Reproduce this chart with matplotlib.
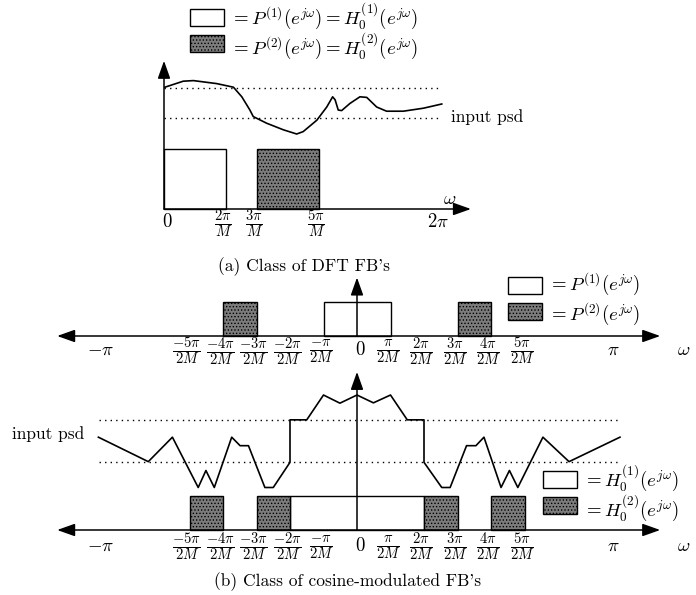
import matplotlib
matplotlib.use("Agg")
import matplotlib.pyplot as plt
from matplotlib.patches import Rectangle, FancyArrowPatch
from matplotlib.transforms import Affine2D

plt.rcParams['font.family'] = 'serif'
plt.rcParams['font.serif'] = ['cmr10', 'DejaVu Serif']
plt.rcParams['mathtext.fontset'] = 'cm'
plt.rcParams['hatch.linewidth'] = 0.6
plt.rcParams['axes.unicode_minus'] = False

# ---- data ----
# (a) DFT filter bank, frequency in units of pi/M
a_white = (0, 2)
a_gray = [(3, 5)]
a_ticks = [0, 2, 3, 5, 9]
a_labels = ['0', r'$\frac{2\pi}{M}$', r'$\frac{3\pi}{M}$', r'$\frac{5\pi}{M}$', r'$2\pi$']
a_psd_x = [0.03, 0.62, 0.95, 1.70, 2.24, 2.51, 2.77, 2.88, 3.31, 3.85, 4.28, 4.49, 4.93,
           5.25, 5.44, 5.52, 5.62, 5.73, 6.00, 6.32, 6.54, 6.86, 7.18, 7.72, 8.37, 8.96]
a_psd_y = [2.03, 2.13, 2.14, 2.09, 2.03, 1.87, 1.65, 1.54, 1.43, 1.32, 1.25, 1.29, 1.48,
           1.70, 1.87, 1.82, 1.65, 1.64, 1.76, 1.87, 1.86, 1.70, 1.63, 1.63, 1.68, 1.75]
a_levels = [2.02, 1.52]

# (b) cosine-modulated filter bank, frequency in units of pi/(2M)
b_ticks = [-5, -4, -3, -2, -1, 0, 1, 2, 3, 4, 5]
b_labels = [r'$\frac{-5\pi}{2M}$', r'$\frac{-4\pi}{2M}$', r'$\frac{-3\pi}{2M}$',
            r'$\frac{-2\pi}{2M}$', r'$\frac{-\pi}{2M}$', '0', r'$\frac{\pi}{2M}$',
            r'$\frac{2\pi}{2M}$', r'$\frac{3\pi}{2M}$', r'$\frac{4\pi}{2M}$', r'$\frac{5\pi}{2M}$']
b_pi = 7.65
p_white = (-1, 1)
p_gray = [(-4, -3), (3, 4)]
h_white = (-2, 2)
h_gray = [(-5, -4), (-3, -2), (2, 3), (4, 5)]
b_psd_x = [-7.72, -6.23, -5.51, -4.74, -4.51, -4.26, -3.74, -3.49, -3.24, -2.75, -2.50,
           -2.0, -2.0, -1.50, -1.0, -0.51, 0.0, 0.49, 1.0, 1.5, 2.0, 2.0, 2.53, 2.78,
           3.27, 3.55, 3.79, 4.30, 4.55, 4.80, 5.55, 6.33, 7.85]
b_psd_y = [2.73, 2.01, 2.73, 1.25, 1.75, 1.25, 2.73, 2.48, 2.48, 1.25, 1.25,
           1.99, 3.24, 3.24, 3.97, 3.73, 3.97, 3.74, 3.97, 3.24, 3.24, 1.99, 1.25, 1.25,
           2.48, 2.48, 2.73, 1.25, 1.75, 1.25, 2.73, 2.01, 2.73]
b_levels = [3.24, 2.0]

W, H = 696, 595
fig = plt.figure(figsize=(6.96, 5.95), dpi=100)
pix = Affine2D().scale(1 / W, -1 / H).translate(0, 1) + fig.transFigure

GRAY = dict(facecolor='#7c7c7c', edgecolor='k', hatch='.....', lw=1.0)
WHITE = dict(facecolor='white', edgecolor='k', lw=1.0)
FS = 12.5      # plain labels
FR = 15        # fraction tick labels (mathtext shrinks them)


def panel(x0, y0, sx, sy, xlim, ylim):
    left, right = x0 + xlim[0] * sx, x0 + xlim[1] * sx
    top, bottom = y0 - ylim[1] * sy, y0 - ylim[0] * sy
    ax = fig.add_axes([left / W, 1 - bottom / H, (right - left) / W, (bottom - top) / H])
    ax.set_xlim(xlim)
    ax.set_ylim(ylim)
    ax.axis('off')
    return ax


def arrow(ax, p0, p1, style='-|>'):
    ax.add_patch(FancyArrowPatch(p0, p1, arrowstyle=style + ',head_length=0.9,head_width=0.32',
                                 mutation_scale=12, lw=1.1, color='k',
                                 shrinkA=0, shrinkB=0, clip_on=False, zorder=5))


def boxes(ax, white, grays):
    ax.add_patch(Rectangle((white[0], 0), white[1] - white[0], 1, **WHITE))
    for g in grays:
        ax.add_patch(Rectangle((g[0], 0), g[1] - g[0], 1, **GRAY))


def ticklabels(ax, ticks, labels, y):
    for t, lab in zip(ticks, labels):
        if lab.startswith(r'$\frac'):
            ax.text(t - 0.08, y, lab, ha='center', va='center', fontsize=FR)
        else:
            ax.text(t + 0.1, y + 0.03, lab, ha='center', va='center', fontsize=FS + 1)


def legend(x, y, texts):
    fig.add_artist(Rectangle((x, y), 34, 17, transform=pix, **WHITE))
    fig.add_artist(Rectangle((x, y + 26), 34, 17, transform=pix, **GRAY))
    fig.text(x + 40, y + 7, texts[0], transform=pix, fontsize=13.5, va='center')
    fig.text(x + 40, y + 37, texts[1], transform=pix, fontsize=13.5, va='center')


# ---- panel (a) ----
ax = panel(164, 209, 31, 60, (-1, 10.5), (-0.6, 2.6))
boxes(ax, a_white, a_gray)
for lv in a_levels:
    ax.plot([0, 8.9], [lv, lv], ls=(0, (1, 3)), color='k', lw=1.0)
ax.plot(a_psd_x, a_psd_y, color='k', lw=1.2)
arrow(ax, (0, 0), (9.9, 0))
arrow(ax, (0, 0), (0, 2.47))
ticklabels(ax, a_ticks[:4], a_labels[:4], -0.25)
ax.text(8.85, -0.22, a_labels[4], ha='center', va='center', fontsize=FS + 1)
ax.text(9.2, 0.17, r'$\omega$', ha='center', va='center', fontsize=FS + 1)
ax.text(9.25, 1.53, 'input psd', ha='left', va='center', fontsize=FS)
legend(190, 9, [r'$= P^{(1)}(e^{j\omega}) = H_0^{(1)}(e^{j\omega})$',
                r'$= P^{(2)}(e^{j\omega}) = H_0^{(2)}(e^{j\omega})$'])
fig.text(304, 267, "(a) Class of DFT FB's", transform=pix, ha='center', va='center', fontsize=FS)

# ---- panel (b), analysis filters P ----
ax = panel(357, 336, 33.5, 34, (-10.5, 10.5), (-1, 2))
boxes(ax, p_white, p_gray)
arrow(ax, (-8.95, 0), (9.05, 0), '<|-|>')
arrow(ax, (0, 0), (0, 1.72))
ticklabels(ax, b_ticks, b_labels, -0.45)
ax.text(-b_pi, -0.42, r'$-\pi$', ha='center', va='center', fontsize=FS + 1)
ax.text(b_pi, -0.42, r'$\pi$', ha='center', va='center', fontsize=FS + 1)
ax.text(9.76, -0.42, r'$\omega$', ha='center', va='center', fontsize=FS + 1)
legend(508, 277, [r'$= P^{(1)}(e^{j\omega})$', r'$= P^{(2)}(e^{j\omega})$'])

# ---- panel (b), filters H0 with input psd ----
ax = panel(357, 530, 33.5, 34, (-10.5, 10.5), (-1, 5))
boxes(ax, h_white, h_gray)
for lv in b_levels:
    ax.plot([-7.7, 7.85], [lv, lv], ls=(0, (1, 3)), color='k', lw=1.0)
ax.plot(b_psd_x, b_psd_y, color='k', lw=1.2)
arrow(ax, (-8.95, 0), (9.05, 0), '<|-|>')
arrow(ax, (0, 0), (0, 4.65))
ticklabels(ax, b_ticks, b_labels, -0.5)
ax.text(-b_pi, -0.46, r'$-\pi$', ha='center', va='center', fontsize=FS + 1)
ax.text(b_pi, -0.46, r'$\pi$', ha='center', va='center', fontsize=FS + 1)
ax.text(9.76, -0.46, r'$\omega$', ha='center', va='center', fontsize=FS + 1)
ax.text(-10.3, 2.82, 'input psd', ha='left', va='center', fontsize=FS)
legend(543, 471, [r'$= H_0^{(1)}(e^{j\omega})$', r'$= H_0^{(2)}(e^{j\omega})$'])
fig.text(348, 582, "(b) Class of cosine-modulated FB's", transform=pix, ha='center',
         va='center', fontsize=FS)

fig.savefig('out.png', dpi=100)
